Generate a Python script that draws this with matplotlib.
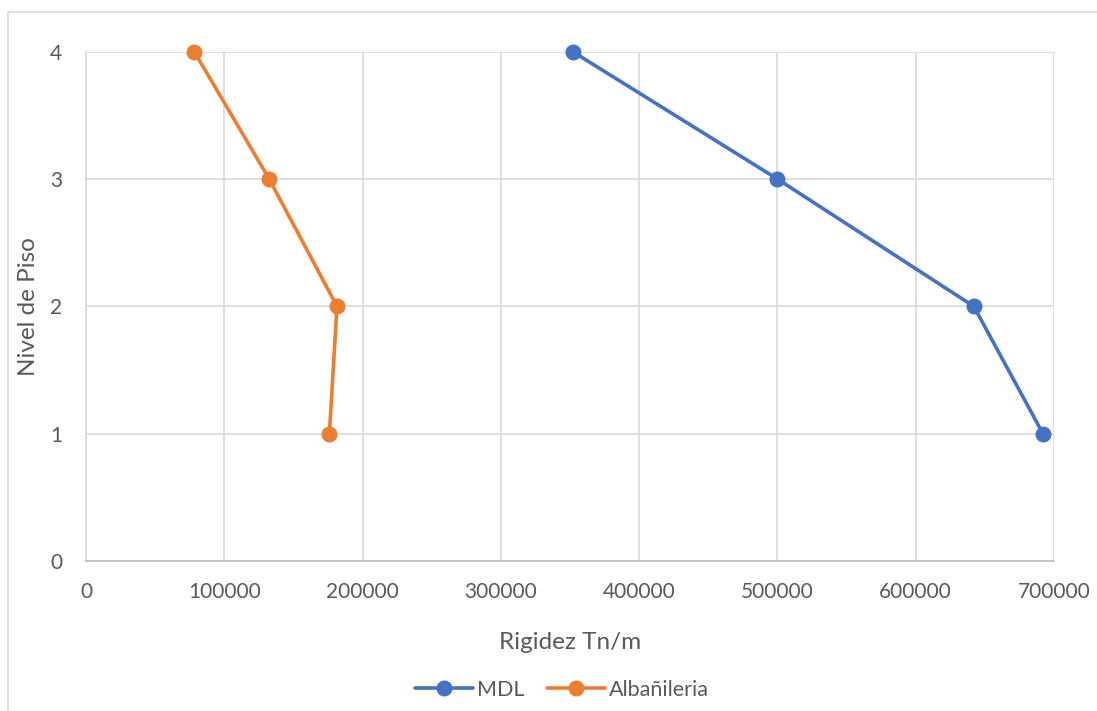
import matplotlib.pyplot as plt
from matplotlib.patches import Rectangle

# stiffness per storey (Tn/m)
pisos = [1, 2, 3, 4]
mdl = [692000, 642000, 500000, 352000]
albanileria = [176000, 181500, 132500, 78300]

plt.rcParams['font.family'] = ['Lato', 'DejaVu Sans']

fig = plt.figure(figsize=(10.97, 7.11), dpi=100)

# light frame around the chart
fig.patches.append(Rectangle((8 / 1097, -0.05), 1.2, 1 - 12 / 711 + 0.05,
                             transform=fig.transFigure, fill=False,
                             edgecolor='#d9d9d9', linewidth=1.2))

ax = fig.add_axes([86 / 1097, 1 - 561 / 711, (1054 - 86) / 1097, (561 - 51.7) / 711])

ax.plot(mdl, pisos, color='#4472C4', linewidth=2.6, marker='o', markersize=10.5,
        label='MDL', solid_capstyle='round', clip_on=False, zorder=3)
ax.plot(albanileria, pisos, color='#ED7D31', linewidth=2.6, marker='o', markersize=10.5,
        label='Albañileria', solid_capstyle='round', clip_on=False, zorder=3)

ax.set_xlim(0, 700000)
ax.set_ylim(0, 4)
ax.set_xticks(range(0, 700001, 100000))
ax.set_yticks(range(0, 5))

ax.grid(True, color='#d9d9d9', linewidth=1.2)
ax.set_axisbelow(True)
for s in ['top', 'right']:
    ax.spines[s].set_visible(False)
ax.spines['left'].set_color('#d9d9d9')
ax.spines['left'].set_linewidth(1.2)
ax.spines['bottom'].set_color('#bfbfbf')
ax.spines['bottom'].set_linewidth(1.2)

ax.tick_params(length=0, labelsize=15, labelcolor='#595959')
ax.tick_params(axis='x', pad=15)
ax.tick_params(axis='y', pad=17)

ax.set_xlabel('Rigidez Tn/m', fontsize=17.5, color='#595959', labelpad=22)
ax.set_ylabel('Nivel de Piso', fontsize=17.5, color='#595959', labelpad=8)

fig.legend(loc='center', bbox_to_anchor=(562 / 1097, 1 - 690 / 711), ncol=2,
           frameon=False, fontsize=15.5, labelcolor='#595959', handlelength=2.7,
           columnspacing=1.0, handletextpad=0.2)

fig.savefig('out.png', dpi=100, facecolor='white')
